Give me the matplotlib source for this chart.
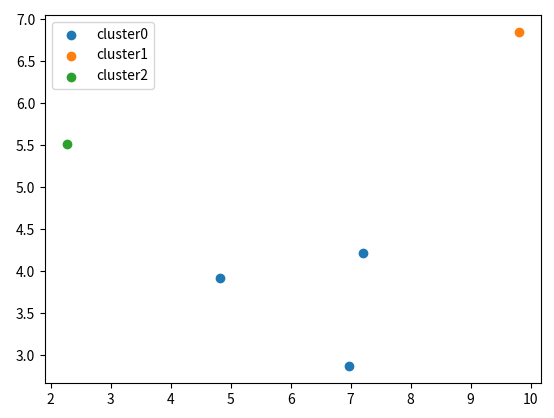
import matplotlib.pyplot as plt

plt.rcParams['font.family'] = ['Noto Sans CJK SC', 'DejaVu Sans']

# ----------------------------------------
# DATA
# ----------------------------------------
cluster0_x = [4.83, 7.20, 6.97]
cluster0_y = [3.92, 4.22, 2.87]
cluster1_x = [9.80]
cluster1_y = [6.85]
cluster2_x = [2.28]
cluster2_y = [5.51]

labels = ["cluster0", "cluster1", "cluster2"]

# ----------------------------------------
# PLOT
# ----------------------------------------
fig = plt.figure(figsize=(5.54, 4.18), dpi=100)
ax = fig.add_axes([0.081, 0.084, 0.896, 0.880])

ax.scatter(cluster0_x, cluster0_y, label=labels[0])
ax.scatter(cluster1_x, cluster1_y, label=labels[1])
ax.scatter(cluster2_x, cluster2_y, label=labels[2])

ax.set_yticks([3.0, 3.5, 4.0, 4.5, 5.0, 5.5, 6.0, 6.5, 7.0])
ax.legend(loc="upper left")

fig.savefig("out.png", dpi=100)
